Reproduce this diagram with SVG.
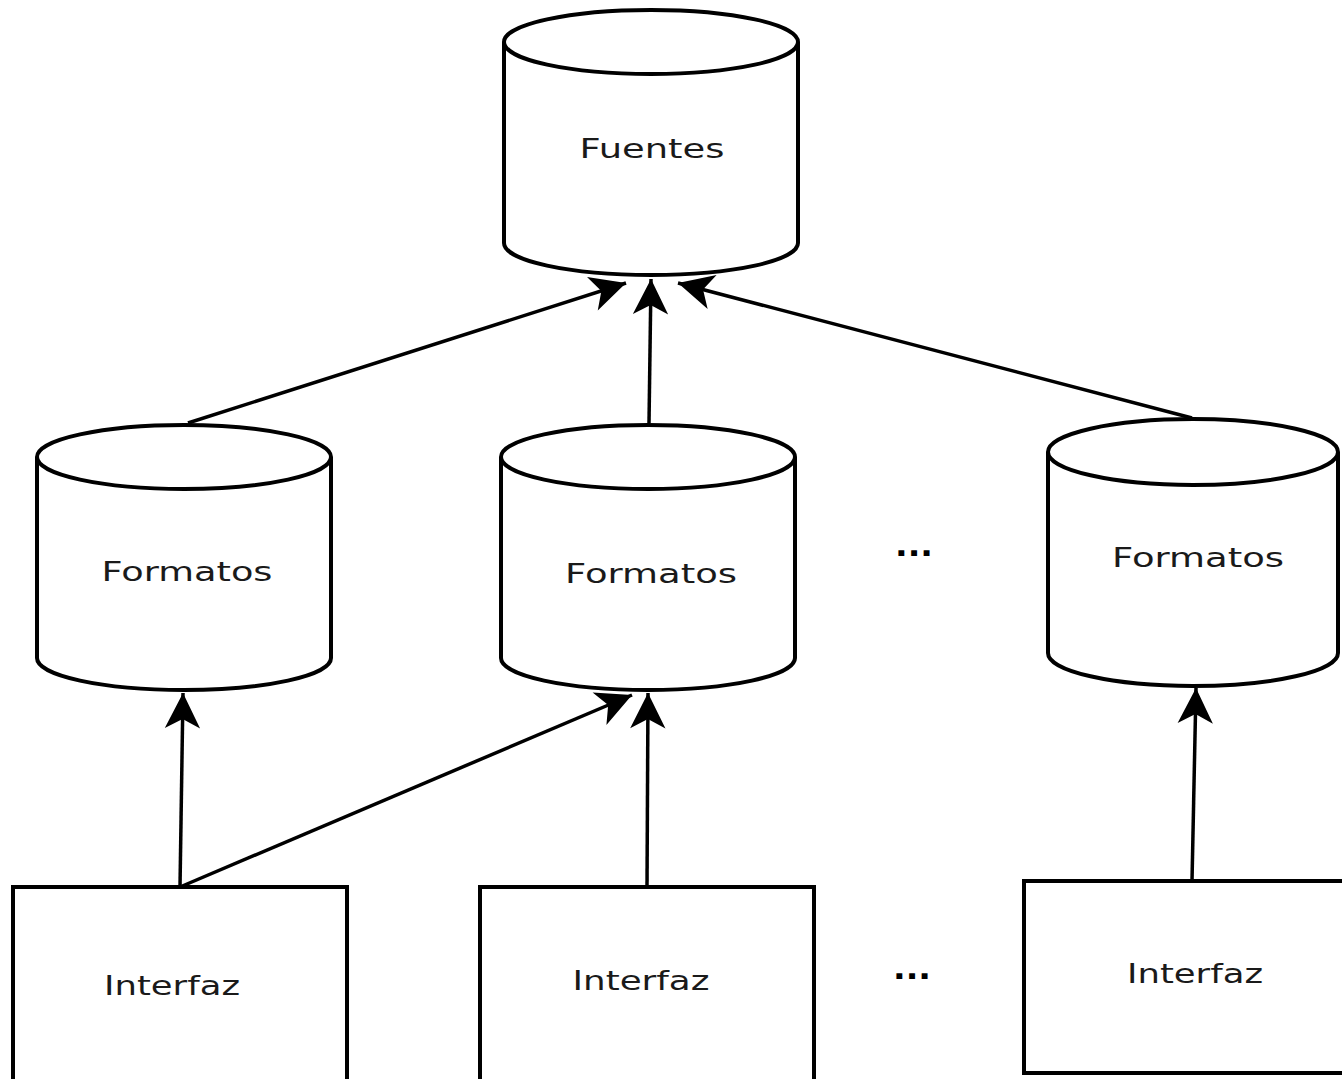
<svg xmlns="http://www.w3.org/2000/svg" width="1342" height="1079" viewBox="0 0 1342 1079">
<style>
.shape{fill:#fff;stroke:#000;stroke-width:4}
.edge{fill:none;stroke:#000;stroke-width:3.5}
.lbl{font-family:"DejaVu Sans",sans-serif;font-size:26px;fill:#1a1a1a;text-anchor:middle}
.dots{font-family:"DejaVu Sans",sans-serif;font-size:30px;font-weight:bold;fill:#000;text-anchor:middle}
</style>
<defs>
<marker id="arr" markerUnits="userSpaceOnUse" markerWidth="40" markerHeight="40" viewBox="-32 -16 34 32" refX="0" refY="0" orient="auto">
<path d="M0,0 L-30,-15 L-22,0 L-30,15 Z" fill="#000"/>
</marker>
</defs>
<rect width="1342" height="1079" fill="#fff"/>
<g id="edges">
<line class="edge" x1="188" y1="423" x2="626" y2="283" marker-end="url(#arr)"/>
<line class="edge" x1="649" y1="423" x2="651" y2="279" marker-end="url(#arr)"/>
<line class="edge" x1="1192" y1="418" x2="678" y2="283" marker-end="url(#arr)"/>
<line class="edge" x1="180" y1="887" x2="183" y2="693" marker-end="url(#arr)"/>
<line class="edge" x1="180" y1="887" x2="632" y2="695" marker-end="url(#arr)"/>
<line class="edge" x1="647" y1="887" x2="648" y2="693" marker-end="url(#arr)"/>
<line class="edge" x1="1192" y1="881" x2="1196" y2="688" marker-end="url(#arr)"/>
</g>
<g id="fuentes">
<path class="shape" d="M504,42 A147,32 0 0 1 798,42 L798,243 A147,32 0 0 1 504,243 Z"/>
<path class="shape" d="M504,42 A147,32 0 0 0 798,42"/>
<text class="lbl" x="652" y="158" textLength="145" lengthAdjust="spacingAndGlyphs">Fuentes</text>
</g>
<g id="formatos1">
<path class="shape" d="M37,457 A147,32 0 0 1 331,457 L331,658 A147,32 0 0 1 37,658 Z"/>
<path class="shape" d="M37,457 A147,32 0 0 0 331,457"/>
<text class="lbl" x="187" y="581" textLength="171" lengthAdjust="spacingAndGlyphs">Formatos</text>
</g>
<g id="formatos2">
<path class="shape" d="M501,457 A147,32 0 0 1 795,457 L795,658 A147,32 0 0 1 501,658 Z"/>
<path class="shape" d="M501,457 A147,32 0 0 0 795,457"/>
<text class="lbl" x="651" y="583" textLength="172" lengthAdjust="spacingAndGlyphs">Formatos</text>
</g>
<g id="formatos3">
<path class="shape" d="M1048,452 A145,33 0 0 1 1338,452 L1338,653 A145,33 0 0 1 1048,653 Z"/>
<path class="shape" d="M1048,452 A145,33 0 0 0 1338,452"/>
<text class="lbl" x="1198" y="567" textLength="172" lengthAdjust="spacingAndGlyphs">Formatos</text>
</g>
<g id="interfaz1">
<rect class="shape" x="13" y="887" width="334" height="200"/>
<text class="lbl" x="172" y="995" textLength="136" lengthAdjust="spacingAndGlyphs">Interfaz</text>
</g>
<g id="interfaz2">
<rect class="shape" x="480" y="887" width="334" height="200"/>
<text class="lbl" x="641" y="990" textLength="137" lengthAdjust="spacingAndGlyphs">Interfaz</text>
</g>
<g id="interfaz3">
<rect class="shape" x="1024" y="881" width="330" height="192"/>
<text class="lbl" x="1195" y="983" textLength="136" lengthAdjust="spacingAndGlyphs">Interfaz</text>
</g>
<g id="dots">
<text class="dots" x="914" y="556" textLength="38" lengthAdjust="spacingAndGlyphs">...</text>
<text class="dots" x="912" y="979" textLength="38" lengthAdjust="spacingAndGlyphs">...</text>
</g>
</svg>
